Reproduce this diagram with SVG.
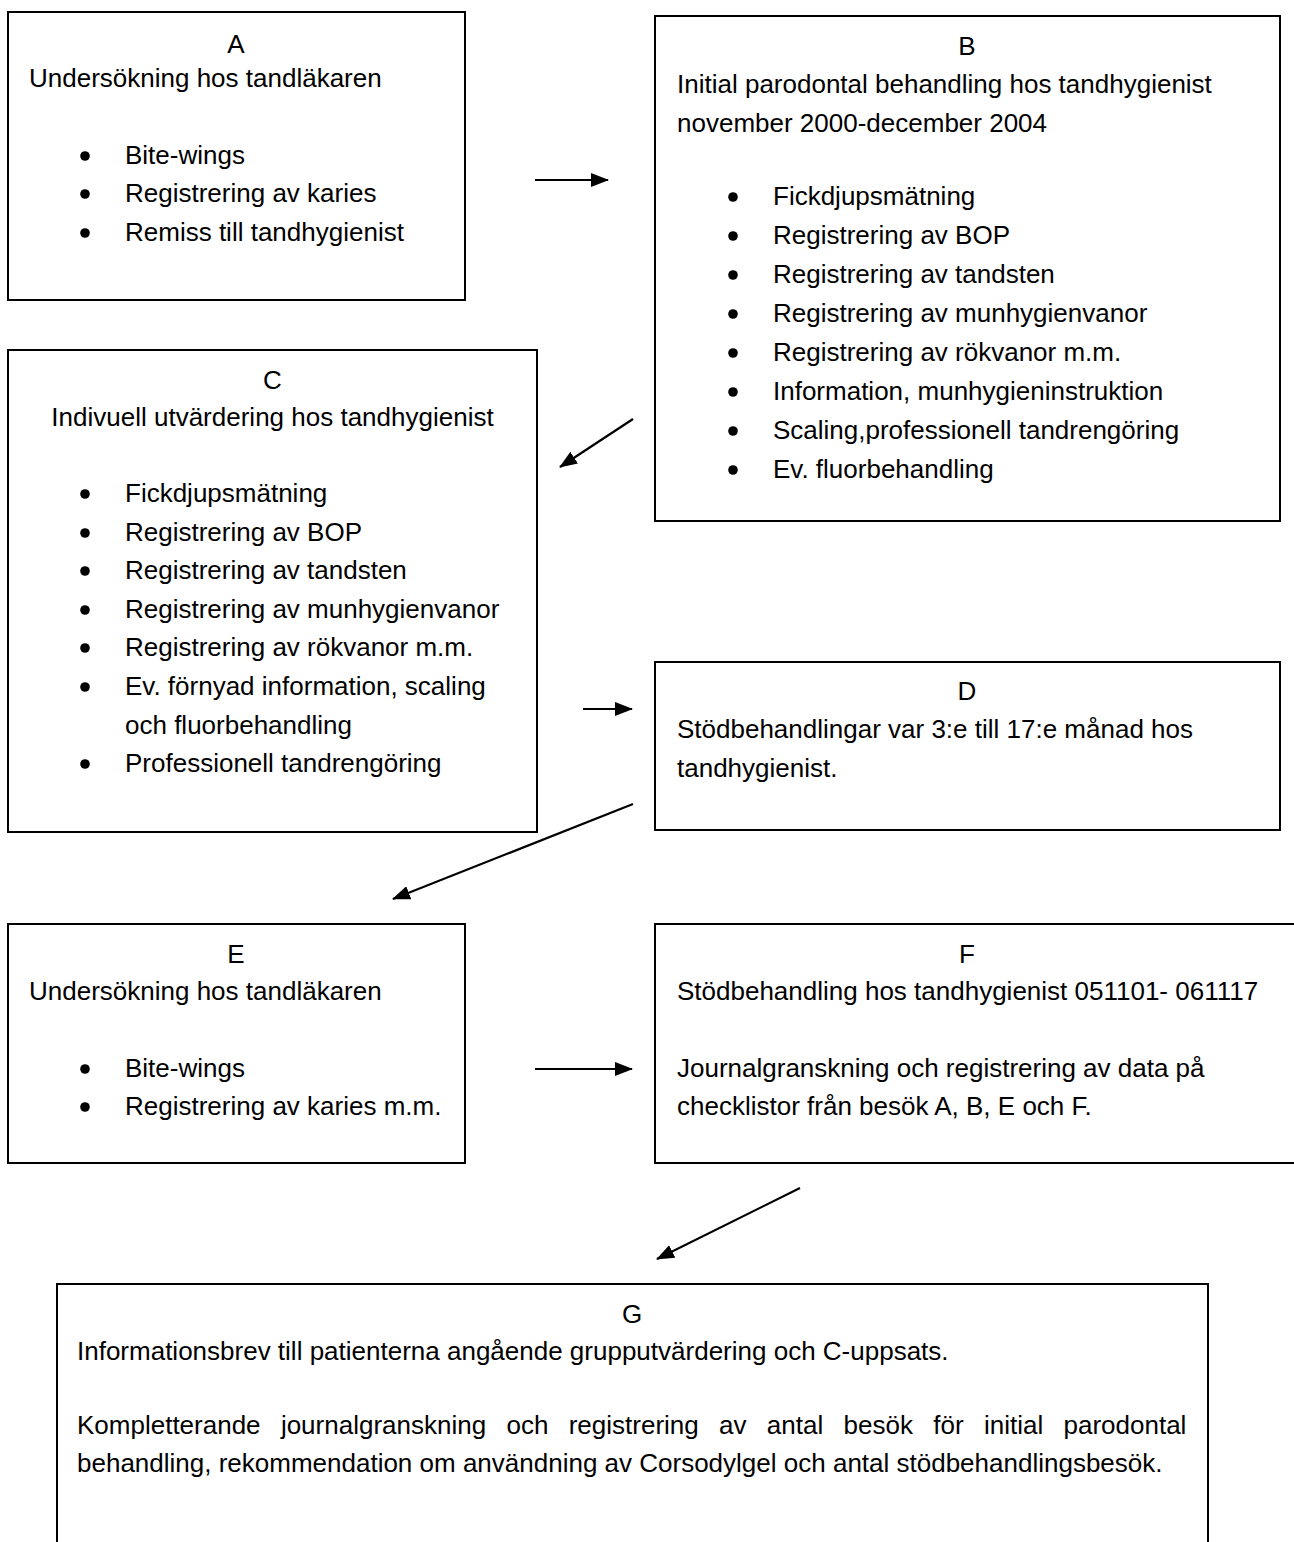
<svg xmlns="http://www.w3.org/2000/svg" width="1294" height="1542" viewBox="0 0 1294 1542">
<style>
  .box { fill: #ffffff; stroke: #000000; stroke-width: 2; }
  text { font-family: "Liberation Sans", Arial, "DejaVu Sans", sans-serif; font-size: 26px; fill: #000000; }
  .mid { text-anchor: middle; }
  .dot { fill: #000000; }
  .conn { stroke: #000000; stroke-width: 2.2; fill: none; marker-end: url(#arrow); }
</style>
<defs>
  <marker id="arrow" viewBox="0 0 18 14" refX="17" refY="7" markerWidth="18" markerHeight="14" markerUnits="userSpaceOnUse" orient="auto">
    <path d="M0,0 L18,7 L0,14 z" fill="#000000"/>
  </marker>
</defs>
<rect width="1294" height="1542" fill="#ffffff"/>

<g id="A">
  <rect class="box" x="8" y="12" width="457" height="288"/>
  <text class="mid" x="236" y="53">A</text>
  <text x="29" y="87">Undersökning hos tandläkaren</text>
  <circle class="dot" cx="85" cy="156" r="4.8"/><text x="125" y="164">Bite-wings</text>
  <circle class="dot" cx="85" cy="194" r="4.8"/><text x="125" y="202">Registrering av karies</text>
  <circle class="dot" cx="85" cy="233" r="4.8"/><text x="125" y="241">Remiss till tandhygienist</text>
</g>

<g id="B">
  <rect class="box" x="655" y="16" width="625" height="505"/>
  <text class="mid" x="967" y="55">B</text>
  <text x="677" y="93">Initial parodontal behandling hos tandhygienist</text>
  <text x="677" y="132">november 2000-december 2004</text>
  <circle class="dot" cx="733" cy="197" r="4.8"/><text x="773" y="205">Fickdjupsmätning</text>
  <circle class="dot" cx="733" cy="236" r="4.8"/><text x="773" y="244">Registrering av BOP</text>
  <circle class="dot" cx="733" cy="275" r="4.8"/><text x="773" y="283">Registrering av tandsten</text>
  <circle class="dot" cx="733" cy="314" r="4.8"/><text x="773" y="322">Registrering av munhygienvanor</text>
  <circle class="dot" cx="733" cy="353" r="4.8"/><text x="773" y="361">Registrering av rökvanor m.m.</text>
  <circle class="dot" cx="733" cy="392" r="4.8"/><text x="773" y="400">Information, munhygieninstruktion</text>
  <circle class="dot" cx="733" cy="431" r="4.8"/><text x="773" y="439">Scaling,professionell tandrengöring</text>
  <circle class="dot" cx="733" cy="470" r="4.8"/><text x="773" y="478">Ev. fluorbehandling</text>
</g>

<g id="C">
  <rect class="box" x="8" y="350" width="529" height="482"/>
  <text class="mid" x="272.5" y="389">C</text>
  <text class="mid" x="272.5" y="426">Indivuell utvärdering hos tandhygienist</text>
  <circle class="dot" cx="85" cy="494" r="4.8"/><text x="125" y="502">Fickdjupsmätning</text>
  <circle class="dot" cx="85" cy="533" r="4.8"/><text x="125" y="541">Registrering av BOP</text>
  <circle class="dot" cx="85" cy="571" r="4.8"/><text x="125" y="579">Registrering av tandsten</text>
  <circle class="dot" cx="85" cy="610" r="4.8"/><text x="125" y="618">Registrering av munhygienvanor</text>
  <circle class="dot" cx="85" cy="648" r="4.8"/><text x="125" y="656">Registrering av rökvanor m.m.</text>
  <circle class="dot" cx="85" cy="687" r="4.8"/><text x="125" y="695">Ev. förnyad information, scaling</text>
  <text x="125" y="734">och fluorbehandling</text>
  <circle class="dot" cx="85" cy="764" r="4.8"/><text x="125" y="772">Professionell tandrengöring</text>
</g>

<g id="D">
  <rect class="box" x="655" y="662" width="625" height="168"/>
  <text class="mid" x="967" y="700">D</text>
  <text x="677" y="738">Stödbehandlingar var 3:e till 17:e månad hos</text>
  <text x="677" y="777">tandhygienist.</text>
</g>

<g id="E">
  <rect class="box" x="8" y="924" width="457" height="239"/>
  <text class="mid" x="236" y="963">E</text>
  <text x="29" y="1000">Undersökning hos tandläkaren</text>
  <circle class="dot" cx="85" cy="1069" r="4.8"/><text x="125" y="1077">Bite-wings</text>
  <circle class="dot" cx="85" cy="1107" r="4.8"/><text x="125" y="1115">Registrering av karies m.m.</text>
</g>

<g id="F">
  <rect class="box" x="655" y="924" width="660" height="239"/>
  <text class="mid" x="967" y="963">F</text>
  <text x="677" y="1000">Stödbehandling hos tandhygienist 051101- 061117</text>
  <text x="677" y="1077">Journalgranskning och registrering av data på</text>
  <text x="677" y="1115">checklistor från besök A, B, E och F.</text>
</g>

<g id="G">
  <rect class="box" x="57" y="1284" width="1151" height="300"/>
  <text class="mid" x="632" y="1323">G</text>
  <text x="77" y="1360">Informationsbrev till patienterna angående grupputvärdering och C-uppsats.</text>
  <text x="77" y="1434" word-spacing="13.1">Kompletterande journalgranskning och registrering av antal besök för initial parodontal</text>
  <text x="77" y="1472">behandling, rekommendation om användning av Corsodylgel och antal stödbehandlingsbesök.</text>
</g>

<g id="connectors">
  <line class="conn" x1="535" y1="180" x2="608" y2="180"/>
  <line class="conn" x1="633" y1="419" x2="560" y2="467"/>
  <line class="conn" x1="583" y1="709" x2="632" y2="709"/>
  <line class="conn" x1="633" y1="804" x2="393" y2="899"/>
  <line class="conn" x1="535" y1="1069" x2="632" y2="1069"/>
  <line class="conn" x1="800" y1="1188" x2="657" y2="1259"/>
</g>
</svg>
